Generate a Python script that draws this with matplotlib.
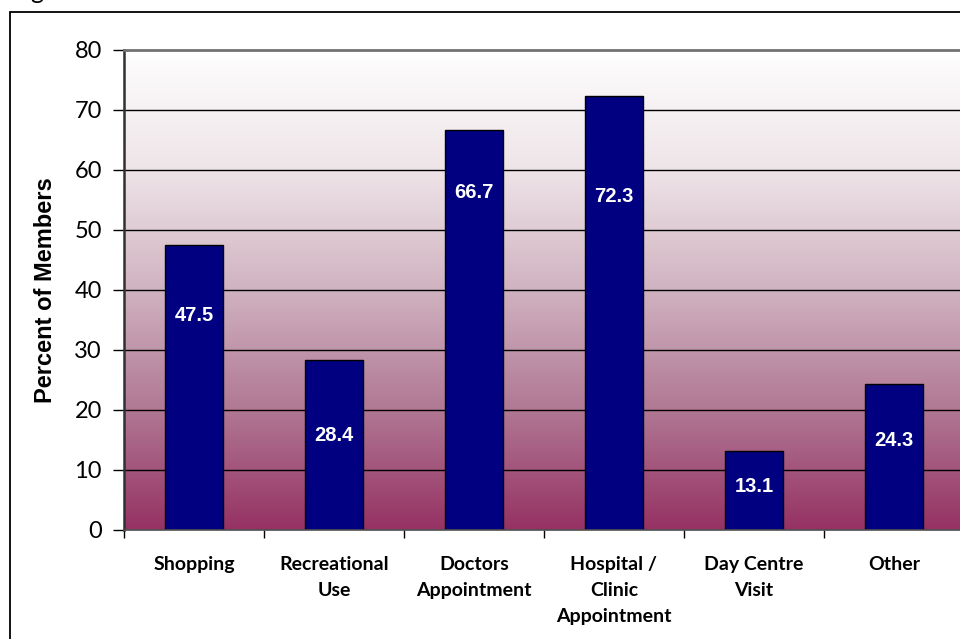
import matplotlib.pyplot as plt
import numpy as np
from matplotlib.colors import LinearSegmentedColormap
from matplotlib.patches import Rectangle

# survey results: share of members using the service for each trip purpose
categories = ['Shopping', 'Recreational\nUse', 'Doctors\nAppointment',
              'Hospital /\nClinic\nAppointment', 'Day Centre\nVisit', 'Other']
percent = [47.5, 28.4, 66.7, 72.3, 13.1, 24.3]
label_y = [35.7, 15.8, 56.2, 55.5, 7.2, 15.0]   # where each value label sits
y_ticks = [0, 10, 20, 30, 40, 50, 60, 70, 80]

fig = plt.figure(figsize=(9.6, 6.39), dpi=100)
fig.patch.set_facecolor('white')

# outer frame of the chart object
fig.patches.append(Rectangle((10 / 960, -0.2), 1.2, (639 - 12) / 639 + 0.2,
                             transform=fig.transFigure, fill=False,
                             edgecolor='black', lw=1.3, zorder=0))
fig.text(30 / 960, 1.0 + 1 / 639, 'g', fontsize=18, family='Lato',
         va='baseline', ha='left')

ax = fig.add_axes([124 / 960, 109 / 639, 840 / 960, 480 / 639])
n = len(categories)
x = np.arange(n)
ax.set_xlim(-0.5, n - 0.5)
ax.set_ylim(0, 80)

# vertical background gradient, white at the top to plum at the bottom
bg = LinearSegmentedColormap.from_list(
    'bg', [(0.0, '#963264'), (0.25, '#b07894'), (0.5, '#d0b2c0'),
           (0.75, '#eee4e8'), (1.0, '#fefefe')])
grad = np.linspace(0, 1, 256).reshape(-1, 1)
ax.imshow(grad, cmap=bg, aspect='auto', origin='lower',
          extent=(-0.5, n - 0.5, 0, 80), zorder=0)

for t in y_ticks[1:-1]:
    ax.axhline(t, color='black', lw=1.0, zorder=1)

ax.bar(x, percent, width=0.41, color='#000080', edgecolor='black',
       lw=1.0, zorder=2)
for xi, v, ly in zip(x, percent, label_y):
    ax.text(xi, ly, f'{v:.1f}', ha='center', va='center', color='white',
            fontsize=14.5, fontweight='bold', family='Liberation Sans', zorder=3)

ax.set_yticks(y_ticks)
ax.set_yticklabels([str(t) for t in y_ticks], fontsize=17, family='Lato')
ax.tick_params(axis='y', length=8, width=1.0, pad=8, direction='out')

ax.set_xticks(x)
ax.set_xticklabels(categories, fontsize=14, fontweight='bold', family='Lato',
                   linespacing=1.62, va='top')
ax.tick_params(axis='x', which='major', length=0, pad=19)
ax.set_xticks(np.arange(n + 1) - 0.5, minor=True)
ax.tick_params(axis='x', which='minor', length=6, width=1.0, direction='out')

ax.set_ylabel('Percent of Members', fontsize=17, fontweight='bold',
              family='Liberation Sans', labelpad=12)

ax.spines['top'].set_color('#707070')
ax.spines['top'].set_linewidth(2)
ax.spines['left'].set_color('#303030')
ax.spines['left'].set_linewidth(1.8)
ax.spines['bottom'].set_color('#505050')
ax.spines['bottom'].set_linewidth(1.2)
ax.spines['right'].set_visible(False)

fig.savefig('out.png', dpi=100)
